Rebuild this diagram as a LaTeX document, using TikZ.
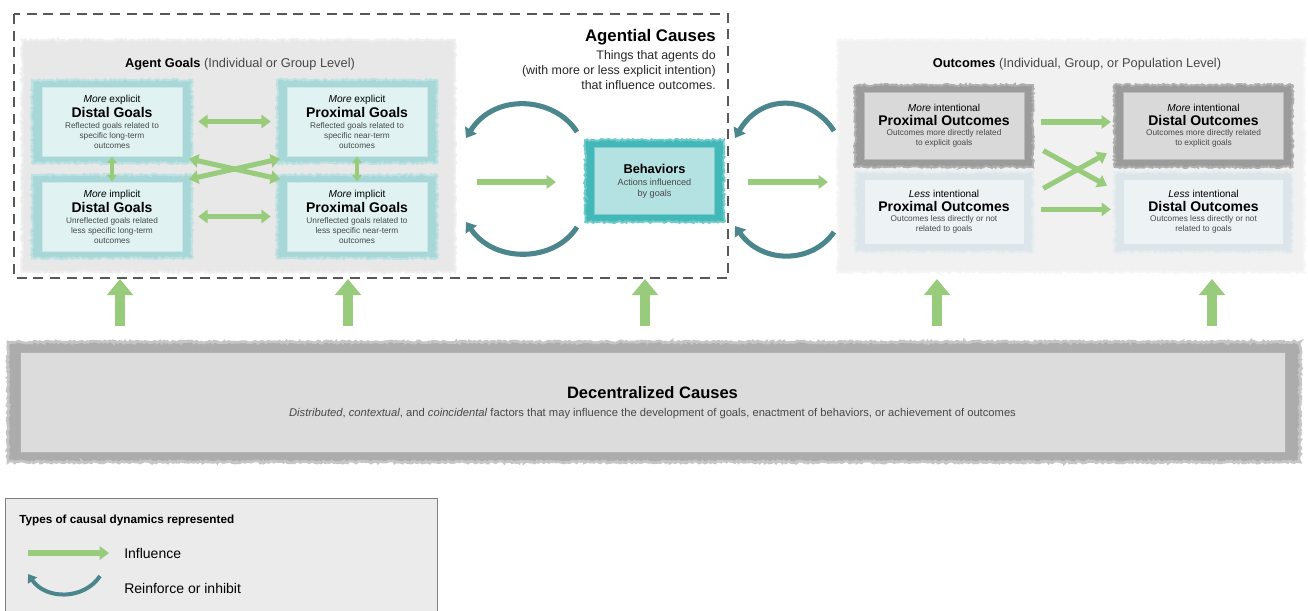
\documentclass[tikz,border=0pt]{standalone}
\usepackage{fontspec}
\setmainfont{Liberation Sans}
\usetikzlibrary{arrows.meta,decorations.pathmorphing,calc}

\definecolor{infl}{RGB}{152,204,124}
\definecolor{reinf}{RGB}{74,134,140}
\definecolor{goalrim}{RGB}{168,215,215}
\definecolor{goalfill}{RGB}{224,242,242}
\definecolor{behrim}{RGB}{66,184,184}
\definecolor{behfill}{RGB}{180,225,225}
\definecolor{outrimA}{RGB}{155,155,155}
\definecolor{outfillA}{RGB}{217,217,217}
\definecolor{outrimB}{RGB}{220,229,233}
\definecolor{outfillB}{RGB}{237,242,244}
\definecolor{panelA}{RGB}{232,232,232}
\definecolor{panelB}{RGB}{241,241,241}
\definecolor{decrim}{RGB}{172,172,172}
\definecolor{decfill}{RGB}{220,220,220}
\definecolor{dashc}{RGB}{88,88,88}
\definecolor{legfill}{RGB}{235,235,235}
\definecolor{subtext}{RGB}{72,72,72}

\newcommand\sz[2]{\fontsize{#1}{#2}\selectfont}

\tikzset{
  rough/.style={decorate, decoration={random steps, segment length=1.3pt, amplitude=0.8pt}},
  panel/.style={rectangle, inner sep=0pt, rough},
  frame/.style={rectangle, inner sep=0pt, rough, line width=1.4pt},
  card/.style={rectangle, inner sep=0pt, align=center},
  goalframe/.style={frame, fill=goalrim, draw=goalrim!75, minimum width=120pt, minimum height=62.5pt},
  goalcard/.style={card, fill=goalfill, draw=goalrim!60, line width=0.4pt, minimum width=105pt, minimum height=52pt},
  outframeA/.style={frame, fill=outrimA, draw=outrimA!80, minimum width=133.5pt, minimum height=61.5pt},
  outcardA/.style={card, fill=outfillA, draw=outrimA!70, line width=0.4pt, minimum width=120pt, minimum height=50pt},
  outframeB/.style={frame, fill=outrimB, draw=outrimB!70, minimum width=133.5pt, minimum height=60pt},
  outcardB/.style={card, fill=outfillB, draw=outrimB, line width=0.4pt, minimum width=120pt, minimum height=49pt},
  desc/.style={font=\sz{6.2}{7.4}, text=subtext},
  influence/.style={draw=infl, line width=3.8pt, -{Triangle[width=10pt,length=7pt]}},
  mutual/.style={draw=infl, line width=3.8pt, {Triangle[width=10pt,length=7pt]}-{Triangle[width=10pt,length=7pt]}},
  mutualsmall/.style={draw=infl, line width=2.6pt, {Triangle[width=7pt,length=5pt]}-{Triangle[width=7pt,length=5pt]}},
  uparrow/.style={draw=infl, line width=7.5pt, -{Triangle[width=19pt,length=12pt]}},
  reinforce/.style={draw=reinf, line width=3.8pt, -{Triangle[width=10pt,length=7pt]}},
  agentbox/.style={draw=dashc, line width=1.8pt, dash pattern=on 7.5pt off 5pt},
}

\newcommand\goalnode[6]{%
  \node[goalframe] (#1f) at (#2,#3) {};
  \node[goalcard, desc] (#1) at (#2,#3) {{\sz{7.6}{9}\color{black}#4}\\[1.5pt]{\sz{10.5}{12}\bfseries\color{black}#5}\\[0.5pt]#6};
}
\newcommand\outnode[7]{%
  \node[outframe#7] (#1f) at (#2,#3) {};
  \node[outcard#7, desc] (#1) at (#2,#3) {{\sz{7.6}{9}\color{black}#4}\\[1.5pt]{\sz{10.5}{12}\bfseries\color{black}#5}\\[0.5pt]#6};
}

\begin{document}
\begin{tikzpicture}[x=0.75pt,y=-0.75pt]
\pgfmathsetseed{4242}
\useasboundingbox (0,0) rectangle (1308,610);
\fill[white] (0,0) rectangle (1308,610);

% ---------- background panels ----------
\node[panel, fill=panelA, draw=panelA!70, line width=1.5pt, minimum width=324.75pt, minimum height=174pt] (goalpanel) at (238.5,156) {};
\node[panel, fill=panelB, draw=panelB!70, line width=1.5pt, minimum width=349.5pt, minimum height=174pt] (outpanel) at (1071,156) {};

% ---------- agential causes boundary ----------
\draw[agentbox] (14,14) rectangle (728,278);
\node[anchor=north east, align=right, inner sep=0pt, font=\sz{9.3}{11.3}, text=black!85] (agential) at (716,29)
  {{\sz{12.6}{15}\bfseries\color{black}Agential Causes}\\[2pt]
   Things that agents do\\(with more or less explicit intention)\\that influence outcomes.};

% ---------- agent goals ----------
\node[inner sep=0pt] (goaltitle) at (240,64)
  {\sz{9.6}{11}\textbf{Agent Goals} \color{subtext}(Individual or Group Level)};

\goalnode{dge}{112}{121.5}{\textit{More} explicit}{Distal Goals}{Reflected goals related to\\specific long-term\\outcomes}
\goalnode{pge}{357}{121.5}{\textit{More} explicit}{Proximal Goals}{Reflected goals related to\\specific near-term\\outcomes}
\goalnode{dgi}{112}{216.5}{\textit{More} implicit}{Distal Goals}{Unreflected goals related\\less specific long-term\\outcomes}
\goalnode{pgi}{357}{216.5}{\textit{More} implicit}{Proximal Goals}{Unreflected goals related to\\less specific near-term\\outcomes}

\draw[mutual] ([xshift=4pt]dgef.east) -- ([xshift=-4pt]pgef.west);
\draw[mutual] ([xshift=4pt]dgif.east) -- ([xshift=-4pt]pgif.west);
\draw[mutualsmall] (dge.south) -- (dgi.north);
\draw[mutualsmall] (pge.south) -- (pgi.north);
\draw[mutual] ([xshift=-3pt,yshift=4pt]dgef.south east) -- ([xshift=3pt,yshift=-4pt]pgif.north west);
\draw[mutual] ([xshift=-3pt,yshift=-4pt]dgif.north east) -- ([xshift=3pt,yshift=4pt]pgef.south west);

% ---------- behaviors ----------
\node[frame, fill=behrim, draw=behrim!75, minimum width=104pt, minimum height=61.5pt] (behf) at (654.5,181) {};
\node[card, fill=behfill, draw=behrim!70, line width=0.4pt, minimum width=90pt, minimum height=50pt, font=\sz{6.8}{8.2}, text=subtext] (beh) at (654.5,181)
  {{\sz{9.6}{11}\bfseries\color{black}Behaviors}\\[1pt]Actions influenced\\by goals};

\coordinate (gA) at (477,182);
\coordinate (gB) at (556,182);
\draw[influence] (gA) -- (gB);
\coordinate (bA) at (748,182);
\coordinate (bB) at (828,182);
\draw[influence] (bA) -- (bB);

% reinforcing loops
\coordinate (lt1) at (577,132); \coordinate (lt2) at (466,138);
\draw[reinforce] (lt1) .. controls (555,97) and (495,92) .. (lt2);
\coordinate (lb1) at (577,227); \coordinate (lb2) at (466,222);
\draw[reinforce] (lb1) .. controls (555,262) and (495,264) .. (lb2);
\coordinate (rt1) at (834,131); \coordinate (rt2) at (735,138);
\draw[reinforce] (rt1) .. controls (812,96) and (762,92) .. (rt2);
\coordinate (rb1) at (834,232); \coordinate (rb2) at (735,226);
\draw[reinforce] (rb1) .. controls (812,264) and (762,264) .. (rb2);

% ---------- outcomes ----------
\node[inner sep=0pt] (outtitle) at (1077,64)
  {\sz{9.6}{11}\textbf{Outcomes} \color{subtext}(Individual, Group, or Population Level)};

\outnode{pom}{944}{126}{\textit{More} intentional}{Proximal Outcomes}{Outcomes more directly related\\to explicit goals}{A}
\outnode{dom}{1203.5}{126}{\textit{More} intentional}{Distal Outcomes}{Outcomes more directly related\\to explicit goals}{A}
\outnode{pol}{944}{212}{\textit{Less} intentional}{Proximal Outcomes}{Outcomes less directly or not\\related to goals}{B}
\outnode{dol}{1203.5}{212}{\textit{Less} intentional}{Distal Outcomes}{Outcomes less directly or not\\related to goals}{B}

\draw[influence] ([xshift=5pt,yshift=3pt]pomf.east) -- ([xshift=-2pt,yshift=3pt]domf.west);
\draw[influence] ([xshift=5pt,yshift=2pt]polf.east) -- ([xshift=-2pt,yshift=2pt]dolf.west);
\draw[influence] ([xshift=7pt,yshift=13pt]pomf.south east) -- ([xshift=-5pt,yshift=-11pt]dolf.north west);
\draw[influence] ([xshift=7pt,yshift=-13pt]polf.north east) -- ([xshift=-5pt,yshift=11pt]domf.south west);

% ---------- decentralized causes ----------
\node[frame, fill=decrim, draw=decrim!70, line width=2pt, minimum width=969pt, minimum height=90pt] (decf) at (654,402) {};
\node[card, fill=decfill, draw=black!30, line width=0.5pt, minimum width=949pt, minimum height=75pt] (dec) at (652.5,402.5)
  {{\sz{12.4}{15}\bfseries Decentralized Causes}\\[1pt]
   {\sz{8.4}{10}\color{subtext}\textit{Distributed}, \textit{contextual}, and \textit{coincidental} factors that may influence the development of goals, enactment of behaviors, or achievement of outcomes}};

\foreach \name/\xx in {ua/120, ub/348, uc/645, ud/937, ue/1212}{
  \coordinate (\name0) at (\xx,326);
  \coordinate (\name1) at (\xx,279);
  \draw[uparrow] (\name0) -- (\name1);
}

% ---------- legend ----------
\node[rectangle, fill=legfill, draw=black!50, line width=1pt, anchor=north west, minimum width=324pt, minimum height=95pt, inner sep=0pt] (legend) at (5,498) {};
\node[anchor=west, inner sep=0pt] (legtitle) at (19,520) {\sz{8.8}{10}\bfseries Types of causal dynamics represented};
\coordinate (li0) at (28,553); \coordinate (li1) at (109,553);
\draw[influence] (li0) -- (li1);
\node[anchor=west, inner sep=0pt] (legi) at (124,553) {\sz{10.5}{12}Influence};
\coordinate (lr0) at (100,576); \coordinate (lr1) at (28,574);
\draw[draw=reinf, line width=3pt, -{Triangle[width=8pt,length=6pt]}] (lr0) .. controls (84,600) and (46,600) .. (lr1);
\node[anchor=west, inner sep=0pt] (legr) at (124,588) {\sz{10.5}{12}Reinforce or inhibit};
\end{tikzpicture}
\end{document}
